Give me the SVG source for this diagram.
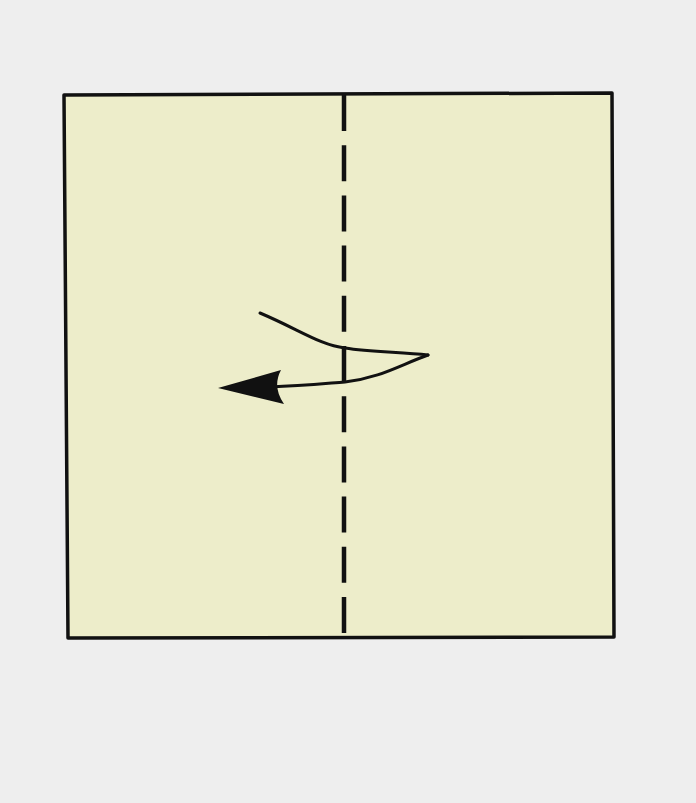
<svg xmlns="http://www.w3.org/2000/svg" width="696" height="803" viewBox="0 0 696 803">
<style>
.ln{fill:none;stroke:#111;stroke-width:3;stroke-linecap:round;stroke-linejoin:round}
</style>
<rect width="696" height="803" fill="#eeeeee"/>
<g id="paper">
<polygon points="64,95 612,93 614,637 68,638" fill="#ededca" stroke="#111" stroke-width="3.5" stroke-linejoin="round"/>
</g>
<g id="fold">
<line x1="344" y1="95" x2="344" y2="637" stroke="#111" stroke-width="4.5" stroke-dasharray="36,14.2"/>
</g>
<g id="connectors">
<path class="ln" d="M260,313 C300,330 320,345 345,348 C370,352 400,352 428,355"/>
<path class="ln" d="M428,355 C400,365 380,378 345,382 C320,384 300,386 270,387"/>
<path d="M218,388 L281,370 Q272,387 284,404 Z" fill="#111"/>
</g>
</svg>
